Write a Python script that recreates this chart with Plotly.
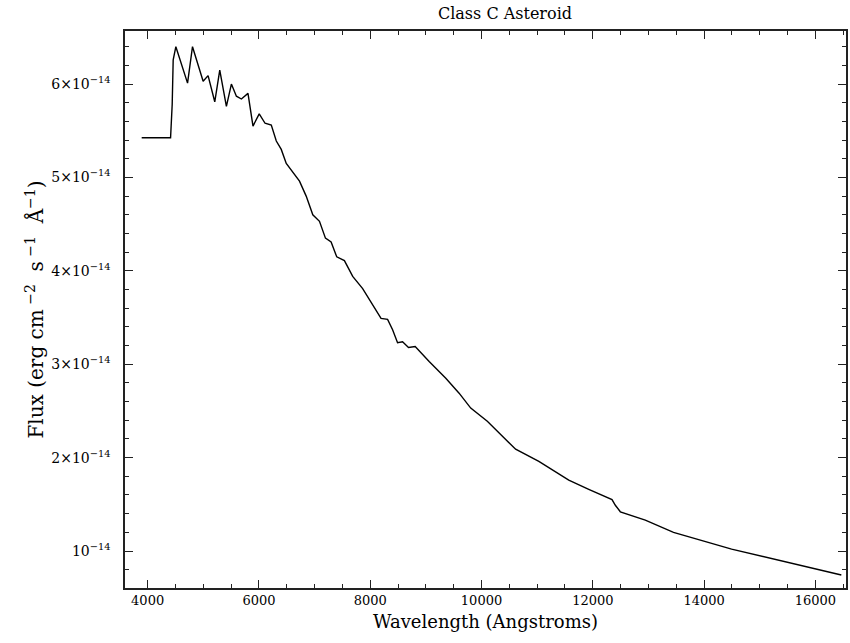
import plotly.graph_objects as go

# Wavelength (Angstroms)
wavelength = [3893, 4412, 4441, 4459, 4507, 4717, 4806, 4997, 5086, 5206, 5296, 5319,
              5415, 5505, 5595, 5685, 5803, 5893, 6005, 6110, 6222, 6312, 6401, 6491,
              6581, 6729, 6849, 6968, 7088, 7195, 7297, 7398, 7536, 7685, 7864, 8014,
              8194, 8312, 8402, 8491, 8581, 8688, 8808, 9059, 9358, 9597, 9806, 10104,
              10434, 10613, 11030, 11568, 11927, 12345, 12405, 12495, 12943, 13450,
              14494, 15452, 16466]
# Flux in units of 1e-14 erg cm^-2 s^-1 A^-1
flux_e14 = [5.425, 5.425, 5.78, 6.26, 6.40, 6.01, 6.40, 6.03, 6.09, 5.81, 6.15, 6.08,
            5.76, 6.00, 5.87, 5.84, 5.90, 5.55, 5.68, 5.58, 5.56, 5.39, 5.30, 5.15,
            5.08, 4.96, 4.80, 4.60, 4.53, 4.35, 4.31, 4.15, 4.11, 3.94, 3.81, 3.67,
            3.49, 3.48, 3.37, 3.23, 3.24, 3.18, 3.19, 3.03, 2.85, 2.69, 2.53, 2.39,
            2.19, 2.09, 1.96, 1.76, 1.66, 1.55, 1.49, 1.42, 1.33, 1.20,
            1.02, 0.885, 0.743]
flux = [v * 1e-14 for v in flux_e14]

y_tickvals = [1e-14, 2e-14, 3e-14, 4e-14, 5e-14, 6e-14]
y_ticktext = ["10<sup>−14</sup>", "2×10<sup>−14</sup>", "3×10<sup>−14</sup>",
              "4×10<sup>−14</sup>", "5×10<sup>−14</sup>", "6×10<sup>−14</sup>"]
x_tickvals = [4000, 6000, 8000, 10000, 12000, 14000, 16000]
x_ticktext = ["4000", "6000", "8000", "10000", "12000", "14000", "16000"]

FONT = "DejaVu Serif"
AX = "#222222"

fig = go.Figure()
fig.add_trace(go.Scatter(x=wavelength, y=flux, mode="lines",
                         line=dict(color="black", width=1.4), showlegend=False))

fig.update_layout(
    width=850, height=643,
    margin=dict(l=125, r=2, t=31, b=55),
    paper_bgcolor="white", plot_bgcolor="white",
    font=dict(family=FONT, color="black", size=12),
    title=dict(text="Class C Asteroid", x=505/850, xanchor="center",
               y=1-13/643, yanchor="middle", font=dict(family=FONT, size=16)),
)
fig.update_xaxes(
    range=[3593, 16550], showgrid=False, zeroline=False,
    showline=True, linecolor=AX, linewidth=1.5, mirror="ticks",
    ticks="inside", ticklen=8, tickwidth=1.2, tickcolor=AX,
    tickmode="array", tickvals=x_tickvals, ticktext=x_ticktext,
    minor=dict(ticks="inside", ticklen=4, tickwidth=1.2, tickcolor=AX,
               tickmode="linear", tick0=0, dtick=500, showgrid=False),
    tickfont=dict(family=FONT, size=13),
    title=dict(text="Wavelength (Angstroms)", font=dict(family=FONT, size=18), standoff=8),
)
fig.update_yaxes(
    range=[0.604e-14, 6.568e-14], showgrid=False, zeroline=False,
    showline=True, linecolor=AX, linewidth=1.5, mirror="ticks",
    ticks="inside", ticklen=8, tickwidth=1.2, tickcolor=AX,
    tickmode="array", tickvals=y_tickvals, ticktext=y_ticktext,
    ticklabelstandoff=10,
    minor=dict(ticks="inside", ticklen=4, tickwidth=1.2, tickcolor=AX,
               tickmode="linear", tick0=0, dtick=0.2e-14, showgrid=False),
    tickfont=dict(family=FONT, size=14),
    title=dict(text="Flux (erg cm<sup> −2</sup>  s<sup> −1</sup>  Å<sup>−1</sup>)",
               font=dict(family=FONT, size=20), standoff=2),
)

fig.write_html("out.html")
